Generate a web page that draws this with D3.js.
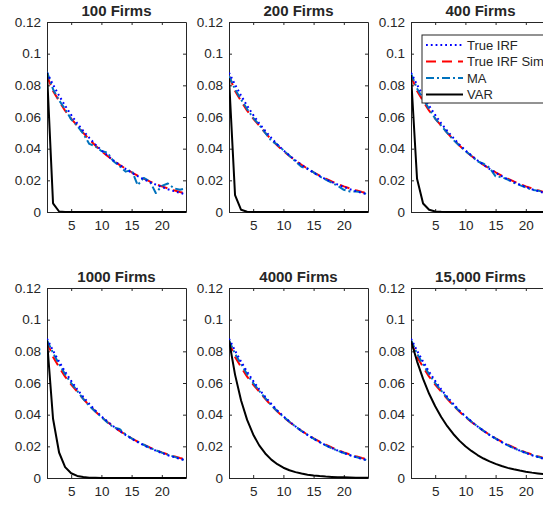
<!DOCTYPE html>
<html><head><meta charset="utf-8">
<script src="https://cdn.jsdelivr.net/npm/d3@7"></script>
<style>
body{margin:0;background:#fff}
svg{display:block}
text{font-family:Arial,"Liberation Sans",Helvetica,sans-serif;fill:#262626}
</style>
</head><body>
<svg id="c" width="543" height="506"></svg>
<script>
// ---------------- data ----------------
const panelTitles = ["100 Firms", "200 Firms", "400 Firms", "1000 Firms", "4000 Firms", "15,000 Firms"];
const horizons = [1,2,3,4,5,6,7,8,9,10,11,12,13,14,15,16,17,18,19,20,21,22,23,24];
const xTicks = [5, 10, 15, 20];
const yTicks = [0, 0.02, 0.04, 0.06, 0.08, 0.1, 0.12];
const yTickLabels = ["0", "0.02", "0.04", "0.06", "0.08", "0.1", "0.12"];
const seriesNames = ["True IRF", "True IRF Sim", "MA", "VAR"];

const trueIRF = [0.0880,0.0804,0.0735,0.0671,0.0613,0.0560,0.0512,0.0468,0.0427,0.0390,0.0357,0.0326,
                 0.0298,0.0272,0.0248,0.0227,0.0207,0.0189,0.0173,0.0158,0.0144,0.0132,0.0121,0.0110];
const trueIRFSim = [0.0860,0.0765,0.0700,0.0640,0.0590,0.0545,0.0500,0.0458,0.0420,0.0385,0.0354,0.0325,
                    0.0298,0.0274,0.0251,0.0230,0.0211,0.0193,0.0177,0.0162,0.0149,0.0137,0.0126,0.0116];

const ma100  = [0.0885,0.0775,0.0705,0.0650,0.0585,0.0545,0.0495,0.0430,0.0415,0.0385,0.0375,0.0320,
                0.0290,0.0255,0.0265,0.0170,0.0215,0.0195,0.0120,0.0165,0.0180,0.0150,0.0140,0.0150];
const ma200  = [0.0860,0.0775,0.0710,0.0650,0.0595,0.0550,0.0500,0.0450,0.0425,0.0390,0.0355,0.0320,
                0.0285,0.0275,0.0250,0.0225,0.0205,0.0185,0.0165,0.0140,0.0130,0.0130,0.0125,0.0110];
const ma400  = [0.0875,0.0780,0.0715,0.0650,0.0590,0.0545,0.0500,0.0455,0.0420,0.0385,0.0355,0.0320,
                0.0305,0.0280,0.0225,0.0220,0.0205,0.0185,0.0170,0.0155,0.0140,0.0135,0.0125,0.0115];
const ma1000 = [0.0870,0.0790,0.0720,0.0655,0.0600,0.0550,0.0500,0.0455,0.0420,0.0385,0.0350,0.0320,
                0.0310,0.0275,0.0250,0.0230,0.0210,0.0190,0.0175,0.0160,0.0147,0.0135,0.0122,0.0110];
const ma4000 = [0.0870,0.0785,0.0720,0.0655,0.0600,0.0550,0.0505,0.0460,0.0422,0.0387,0.0355,0.0325,
                0.0297,0.0272,0.0248,0.0226,0.0206,0.0188,0.0172,0.0158,0.0145,0.0133,0.0122,0.0110];
const ma15000= [0.0872,0.0785,0.0718,0.0655,0.0600,0.0552,0.0505,0.0460,0.0423,0.0388,0.0356,0.0326,
                0.0298,0.0272,0.0249,0.0227,0.0207,0.0189,0.0173,0.0159,0.0146,0.0134,0.0123,0.0112];

const var100  = [0.0880,0.0055,0.0003,0,0,0,0,0,0,0,0,0,0,0,0,0,0,0,0,0,0,0,0,0];
const var200  = [0.0845,0.0107,0.0014,0.0002,0,0,0,0,0,0,0,0,0,0,0,0,0,0,0,0,0,0,0,0];
const var400  = [0.0865,0.0210,0.0054,0.0014,0.0003,0.0001,0,0,0,0,0,0,0,0,0,0,0,0,0,0,0,0,0,0];
const var1000 = [0.0870,0.0374,0.0161,0.0069,0.0030,0.0013,0.0006,0.0002,0.0001,0,0,0,0,0,0,0,0,0,0,0,0,0,0,0];
const var4000 = [0.0870,0.0653,0.0489,0.0367,0.0275,0.0206,0.0155,0.0116,0.0087,0.0065,0.0049,0.0037,
                 0.0028,0.0021,0.0016,0.0012,0.0009,0.0007,0.0005,0.0004,0.0003,0.0002,0.0002,0.0001];
const var15000= [0.0867,0.0737,0.0626,0.0532,0.0453,0.0385,0.0327,0.0278,0.0236,0.0201,0.0171,0.0145,
                 0.0123,0.0105,0.0089,0.0076,0.0064,0.0055,0.0047,0.0040,0.0034,0.0029,0.0024,0.0021];

const maSeries  = [ma100, ma200, ma400, ma1000, ma4000, ma15000];
const varSeries = [var100, var200, var400, var1000, var4000, var15000];

// ---------------- layout / style ----------------
const colLefts = [47, 229, 411];
const rowTops = [22, 288];
const pw = 139, ph = 190;
const styles = [
  {color:"#0000ff", width:2, dash:"1.8,3"},
  {color:"#ff0000", width:2, dash:"10,6"},
  {color:"#0072bd", width:2, dash:"8,3,2,3"},
  {color:"#000000", width:2, dash:null}
];
const axisColor = "#262626";

const svg = d3.select("#c");
const x = d3.scaleLinear().domain([1, 24]).range([0, pw]);
const y = d3.scaleLinear().domain([0, 0.12]).range([ph, 0]);

panelTitles.forEach((title, i) => {
  const gx = colLefts[i % 3], gy = rowTops[Math.floor(i / 3)];
  const g = svg.append("g").attr("transform", `translate(${gx},${gy})`);

  g.append("clipPath").attr("id", "clip" + i)
    .append("rect").attr("x", 0).attr("y", -1).attr("width", pw).attr("height", ph + 2);

  // axes
  const ax = [
    g.append("g").attr("transform", `translate(0,${ph})`)
      .call(d3.axisBottom(x).tickValues(xTicks).tickSize(-3).tickPadding(8).tickSizeOuter(0)),
    g.append("g").call(d3.axisLeft(y).tickValues(yTicks).tickSize(-3).tickPadding(6).tickSizeOuter(0)
      .tickFormat((d, k) => yTickLabels[k])),
    g.append("g").call(d3.axisTop(x).tickValues(xTicks).tickSize(-3).tickSizeOuter(0).tickFormat("")),
    g.append("g").attr("transform", `translate(${pw},0)`)
      .call(d3.axisRight(y).tickValues(yTicks).tickSize(-3).tickSizeOuter(0).tickFormat(""))
  ];
  ax.forEach(a => {
    a.selectAll("path,line").attr("stroke", axisColor).attr("stroke-width", 1);
    a.selectAll("text").attr("fill", axisColor).style("font-size", "13.5px")
      .style("font-family", 'Arial,"Liberation Sans",sans-serif');
  });

  // title
  g.append("text").attr("x", pw / 2).attr("y", -6).attr("text-anchor", "middle")
    .style("font-size", "15px").style("font-weight", "bold").attr("fill", "#000").text(title);

  // lines
  const lineGen = d3.line().x((d, k) => x(horizons[k])).y(d => y(d));
  const data = [trueIRF, trueIRFSim, maSeries[i], varSeries[i]];
  const order = [1, 2, 0, 3];
  const lg = g.append("g").attr("clip-path", `url(#clip${i})`);
  [1, 2, 0, 3].forEach(s => {
    lg.append("path").datum(data[s]).attr("d", lineGen)
      .attr("fill", "none").attr("stroke", styles[s].color).attr("stroke-width", styles[s].width)
      .attr("stroke-dasharray", styles[s].dash).attr("stroke-linejoin", "round");
  });

  // legend in panel 3
  if (i === 2) {
    const L = g.append("g").attr("transform", "translate(11,13)");
    L.append("rect").attr("x", 0).attr("y", 0).attr("width", 130).attr("height", 68)
      .attr("fill", "#fff").attr("stroke", axisColor).attr("stroke-width", 1);
    seriesNames.forEach((nm, s) => {
      const yy = 10 + s * 16.5;
      L.append("line").attr("x1", 4).attr("x2", 41).attr("y1", yy).attr("y2", yy)
        .attr("stroke", styles[s].color).attr("stroke-width", styles[s].width)
        .attr("stroke-dasharray", styles[s].dash);
      L.append("text").attr("x", 45).attr("y", yy).attr("dy", "0.35em")
        .style("font-size", "13px").attr("fill", "#000").text(nm);
    });
  }
});
</script>
</body></html>
